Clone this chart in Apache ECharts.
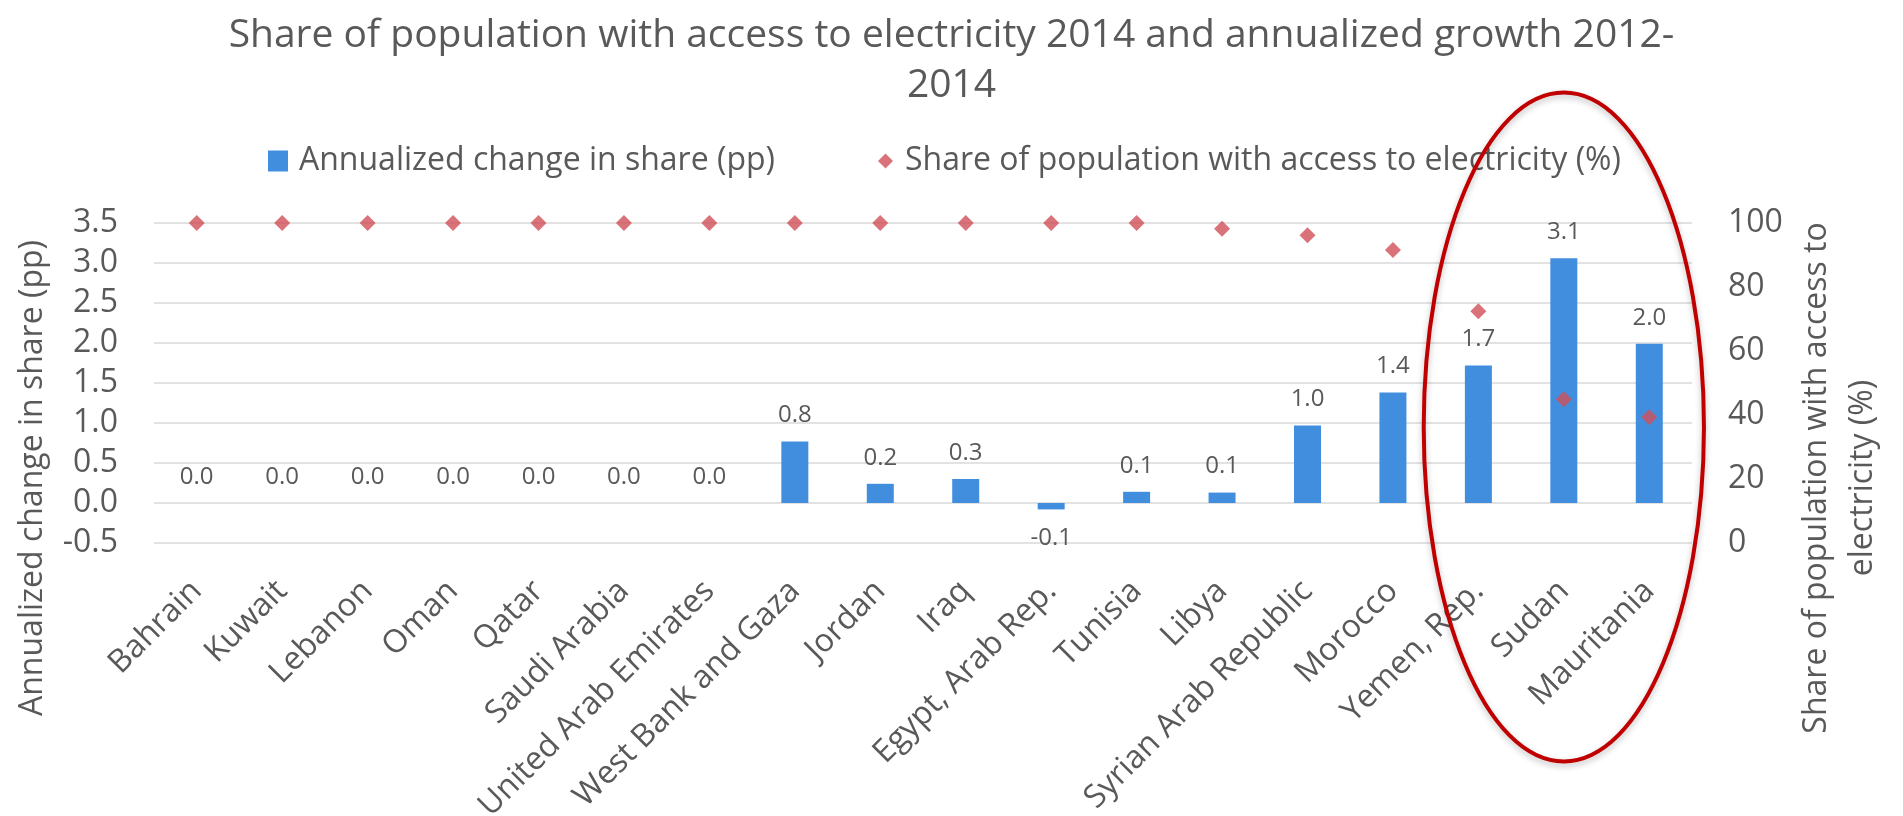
<!DOCTYPE html>
<html>
<head>
<meta charset="utf-8">
<script src="https://cdn.jsdelivr.net/npm/echarts@6/dist/echarts.min.js"></script>
<style>
  html, body { margin: 0; padding: 0; background: #ffffff; }
  #chart { width: 1903px; height: 816px; }
</style>
</head>
<body>
<div id="chart"></div>
<script>
// Countries, ordered by share of population with electricity access
const countries = [
  'Bahrain', 'Kuwait', 'Lebanon', 'Oman', 'Qatar', 'Saudi Arabia',
  'United Arab Emirates', 'West Bank and Gaza', 'Jordan', 'Iraq',
  'Egypt, Arab Rep.', 'Tunisia', 'Libya', 'Syrian Arab Republic',
  'Morocco', 'Yemen, Rep.', 'Sudan', 'Mauritania'
];

// Annualized change in access share 2012-2014, percentage points
const annualChange = [
  0.0, 0.0, 0.0, 0.0, 0.0, 0.0,
  0.0, 0.77, 0.24, 0.30,
  -0.08, 0.14, 0.13, 0.97,
  1.38, 1.72, 3.06, 1.99
];

// Share of population with access to electricity in 2014, %
const accessShare = [
  100, 100, 100, 100, 100, 100,
  100, 100, 100, 100,
  100, 100, 98.2, 96.2,
  91.6, 72.4, 44.9, 39.3
];

// Axis ranges and tick steps
const leftAxisRange = { min: -0.5, max: 3.5, step: 0.5 };
const rightAxisRange = { min: 0, max: 100, step: 20 };

// Highlight ring around the lowest-access group, in axis units
const highlight = { center: 'Sudan', centerValue: 0.95, halfWidthCats: 1.64, halfHeightPP: 4.18 };

const seriesNames = [
  'Annualized change in share (pp)',
  'Share of population with access to electricity (%)'
];

const FONT = '"Open Sans", "Noto Sans", sans-serif';
const TEXT = '#595959';

const chart = echarts.init(document.getElementById('chart'), null, { renderer: 'canvas' });

const option = {
  backgroundColor: '#ffffff',
  animation: false,
  textStyle: { fontFamily: FONT, color: TEXT },
  title: {
    text: 'Share of population with access to electricity 2014 and annualized growth 2012-\n2014',
    left: 'center',
    top: 6,
    textStyle: { fontFamily: FONT, fontSize: 39, fontWeight: 'normal', color: TEXT, lineHeight: 50 }
  },
  legend: [
    {
      data: [{ name: seriesNames[0], icon: 'rect' }],
      left: 263, top: 140,
      itemWidth: 20, itemHeight: 21,
      textStyle: { fontFamily: FONT, fontSize: 32, color: TEXT, padding: [0, 0, 0, 6] }
    },
    {
      data: [{ name: seriesNames[1], icon: 'diamond' }],
      left: 873, top: 140,
      itemWidth: 15, itemHeight: 15,
      textStyle: { fontFamily: FONT, fontSize: 32, color: TEXT, padding: [0, 0, 0, 7] }
    }
  ],
  grid: {
    left: 154, right: 211, top: 223, bottom: 273,
    containLabel: false,
    outerBoundsMode: 'none'
  },
  xAxis: {
    type: 'category',
    data: countries,
    axisLine: { show: false },
    axisTick: { show: false },
    axisLabel: {
      rotate: 45,
      interval: 0,
      margin: 43,
      fontFamily: FONT,
      fontSize: 32,
      color: TEXT
    }
  },
  yAxis: [
    {
      type: 'value',
      min: leftAxisRange.min,
      max: leftAxisRange.max,
      interval: leftAxisRange.step,
      axisLine: { show: false },
      axisTick: { show: false },
      axisLabel: {
        margin: 36,
        fontFamily: FONT,
        fontSize: 32,
        color: TEXT,
        formatter: v => v.toFixed(1)
      },
      splitLine: { lineStyle: { color: '#d9d9d9', width: 1.5 } }
    },
    {
      type: 'value',
      min: rightAxisRange.min,
      max: rightAxisRange.max,
      interval: rightAxisRange.step,
      axisLine: { show: false },
      axisTick: { show: false },
      axisLabel: {
        margin: 36,
        fontFamily: FONT,
        fontSize: 32,
        color: TEXT
      },
      splitLine: { show: false }
    }
  ],
  series: [
    {
      name: seriesNames[0],
      type: 'bar',
      yAxisIndex: 0,
      barWidth: 27,
      itemStyle: { color: '#418EDE' },
      data: annualChange.map(v => ({
        value: v,
        label: { position: v < 0 ? 'bottom' : 'top', distance: v < 0 ? 17 : 14 }
      })),
      label: {
        show: true,
        fontFamily: FONT,
        fontSize: 24,
        color: TEXT,
        formatter: p => p.value.toFixed(1)
      }
    },
    {
      name: seriesNames[1],
      type: 'scatter',
      yAxisIndex: 1,
      symbol: 'diamond',
      symbolSize: 16,
      itemStyle: { color: '#CF5058' },
      data: accessShare,
      z: 5
    }
  ]
};

chart.setOption(option);

// Axis titles, placed beside the tick labels and read bottom-to-top
function axisTitles() {
  return [
    {
      type: 'text',
      x: 33, y: 478,
      rotation: Math.PI / 2,
      silent: true,
      style: {
        text: 'Annualized change in share (pp)',
        fontFamily: FONT, fontSize: 32, fill: TEXT,
        align: 'center', verticalAlign: 'middle'
      }
    },
    {
      type: 'text',
      x: 1840, y: 478,
      rotation: Math.PI / 2,
      silent: true,
      style: {
        text: 'Share of population with access to\nelectricity (%)',
        fontFamily: FONT, fontSize: 32, fill: TEXT, lineHeight: 46,
        align: 'center', verticalAlign: 'middle'
      }
    }
  ];
}

// Red ring drawn around the last three countries, sized from the axes
function highlightRing() {
  const idx = countries.indexOf(highlight.center);
  const c = chart.convertToPixel({ xAxisIndex: 0, yAxisIndex: 0 }, [idx, highlight.centerValue]);
  const next = chart.convertToPixel({ xAxisIndex: 0, yAxisIndex: 0 }, [idx + 1, highlight.centerValue]);
  const up = chart.convertToPixel({ xAxisIndex: 0, yAxisIndex: 0 }, [idx, highlight.centerValue + highlight.halfHeightPP]);
  const catStep = next[0] - c[0];
  return {
    type: 'ellipse',
    silent: true,
    z: 100,
    shape: { cx: c[0], cy: c[1], rx: catStep * highlight.halfWidthCats, ry: c[1] - up[1] },
    style: {
      fill: 'none',
      stroke: '#C00000',
      lineWidth: 4,
      shadowColor: 'rgba(0,0,0,0.25)',
      shadowBlur: 6,
      shadowOffsetY: 3
    }
  };
}

chart.setOption({ graphic: axisTitles().concat([highlightRing()]) });
</script>
</body>
</html>
